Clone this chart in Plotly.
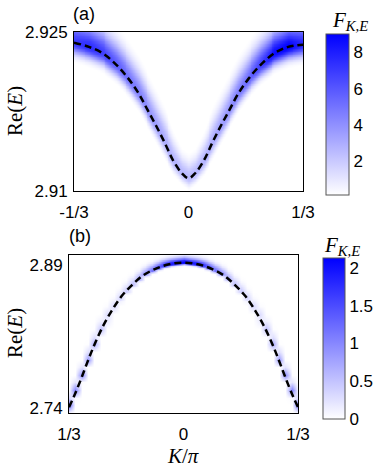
import numpy as np
import plotly.graph_objects as go

W, H = 382, 474


def fx(px):
    return px / W


def fy(py):
    return 1 - py / H


# ---- panel (a): dashed dispersion curve + spectral weight band ----
k_a = [-1/3, -0.29, -0.25, -0.21, -0.175, -0.145, -0.12, -0.095, -0.07, -0.045, -0.02, 0.0,
       0.02, 0.045, 0.07, 0.095, 0.12, 0.145, 0.175, 0.21, 0.25, 0.29, 1/3]
e_a = [2.9240, 2.9236, 2.9230, 2.9219, 2.9206, 2.9192, 2.9177, 2.9162, 2.9146, 2.9129, 2.9117, 2.9112,
       2.9117, 2.9129, 2.9146, 2.9162, 2.9177, 2.9192, 2.9206, 2.9219, 2.9230, 2.9236, 2.9238]
peak_a = [7.0, 7.5, 6.8, 5.8, 5.0, 4.5, 4.0, 3.5, 3.0, 2.8, 2.6, 2.5,
          2.6, 2.8, 3.0, 3.5, 4.0, 4.6, 5.4, 6.8, 8.6, 9.0, 7.5]
width_a = [0.0007, 0.0007, 0.0007, 0.0007, 0.0007, 0.0007, 0.0007, 0.0007, 0.0007, 0.0006, 0.0005, 0.0005,
           0.0005, 0.0006, 0.0007, 0.0007, 0.0007, 0.0007, 0.0007, 0.0007, 0.0007, 0.0007, 0.0007]

# ---- panel (b) ----
k_b = [-1/3, -0.32, -0.30, -0.28, -0.26, -0.235, -0.21, -0.18, -0.15, -0.12, -0.085, -0.045, 0.0,
       0.045, 0.085, 0.12, 0.15, 0.18, 0.21, 0.235, 0.26, 0.28, 0.30, 0.32, 1/3]
e_b = [2.7410, 2.7515, 2.7690, 2.7880, 2.8060, 2.8255, 2.8415, 2.8575, 2.8690, 2.8785, 2.8855, 2.8905, 2.8925,
       2.8905, 2.8855, 2.8785, 2.8690, 2.8575, 2.8415, 2.8255, 2.8060, 2.7880, 2.7690, 2.7515, 2.7410]
peak_b = [1.3, 1.2, 1.1, 0.9, 0.7, 0.5, 0.35, 0.35, 0.5, 0.8, 1.3, 1.9, 2.1,
          1.9, 1.3, 0.8, 0.5, 0.35, 0.35, 0.5, 0.7, 0.9, 1.1, 1.2, 1.3]
width_b = [0.002, 0.002, 0.002, 0.002, 0.002, 0.002, 0.0019, 0.0018, 0.0016, 0.0015, 0.0014, 0.0013, 0.0013,
           0.0013, 0.0014, 0.0015, 0.0016, 0.0018, 0.0019, 0.002, 0.002, 0.002, 0.002, 0.002, 0.002]

xa_vals = [-1/3, 0, 1/3]
xa_text = ["-1/3", "0", "1/3"]
xb_text = ["1/3", "0", "1/3"]
ya_vals, ya_text = [2.91, 2.925], ["2.91", "2.925"]
yb_vals, yb_text = [2.74, 2.89], ["2.74", "2.89"]
ya_range = [2.91, 2.925]
yb_range = [2.735, 2.9005]


def band(k, e, peak, width, kgrid, egrid, skew):
    c = np.interp(kgrid, k, e)
    p = np.interp(kgrid, k, peak)
    w = np.interp(kgrid, k, width)
    d = egrid[:, None] - c[None, :]
    s = np.where(d > 0, w * skew, w)
    return p * np.exp(-0.5 * (d / s) ** 2)


kg_a = np.linspace(-1/3, 1/3, 241)
eg_a = np.linspace(ya_range[0], ya_range[1], 220)
z_a = band(k_a, e_a, peak_a, width_a, kg_a, eg_a, 2.0)
kg_b = np.linspace(-1/3, 1/3, 37)
eg_b = np.concatenate([np.arange(yb_range[0], 2.850, 0.008), np.linspace(2.852, yb_range[1], 70)])
z_b = band(k_b, e_b, peak_b, width_b, kg_b, eg_b, 3.0)

fig = go.Figure()
fig.add_trace(go.Heatmap(x=kg_a, y=eg_a, z=z_a, coloraxis="coloraxis", zsmooth="best",
                         xaxis="x", yaxis="y", hoverinfo="skip"))
fig.add_trace(go.Scatter(x=k_a, y=e_a, mode="lines", line=dict(color="black", width=2.5, dash="7px,4px", shape="spline"),
                         xaxis="x", yaxis="y", showlegend=False))
fig.add_trace(go.Heatmap(x=kg_b, y=eg_b, z=z_b, coloraxis="coloraxis2", zsmooth="best",
                         xaxis="x2", yaxis="y2", hoverinfo="skip"))
fig.add_trace(go.Scatter(x=k_b, y=e_b, mode="lines", line=dict(color="black", width=2.5, dash="7px,4px", shape="spline"),
                         xaxis="x2", yaxis="y2", showlegend=False))

tickfont = dict(family="Liberation Sans, Arial", size=17, color="black")
scale = [[0, "rgb(255,255,255)"], [1, "rgb(0,0,255)"]]
axis_common = dict(showline=True, linecolor="black", linewidth=1, mirror=True, showgrid=False,
                   zeroline=False, ticks="", tickfont=tickfont, automargin=False)

fig.update_layout(
    width=W, height=H, margin=dict(l=0, r=0, t=0, b=0, autoexpand=False),
    paper_bgcolor="white", plot_bgcolor="white", showlegend=False,
    xaxis=dict(domain=[fx(74), fx(303)], anchor="y", range=[-1/3, 1/3], tickvals=xa_vals, ticktext=xa_text,
               ticklabelstandoff=6, **axis_common),
    yaxis=dict(domain=[fy(191), fy(32)], anchor="x", range=ya_range, tickvals=ya_vals, ticktext=ya_text,
               ticklabelstandoff=2, **axis_common),
    xaxis2=dict(domain=[fx(69), fx(298)], anchor="y2", range=[-1/3, 1/3], tickvals=xa_vals, ticktext=xb_text,
                ticklabelstandoff=6, **axis_common),
    yaxis2=dict(domain=[fy(413), fy(255)], anchor="x2", range=yb_range, tickvals=yb_vals, ticktext=yb_text,
                ticklabelstandoff=2, **axis_common),
    coloraxis=dict(colorscale=scale, cmin=0.15, cmax=9.0,
                   colorbar=dict(x=fx(326), xanchor="left", y=fy(114.5), yanchor="middle", len=161/H,
                                 thickness=23, outlinewidth=1, outlinecolor="#555", tickvals=[2, 4, 6, 8],
                                 ticks="", tickfont=tickfont, xpad=0, ypad=0)),
    coloraxis2=dict(colorscale=scale, cmin=0, cmax=2.13,
                    colorbar=dict(x=fx(323), xanchor="left", y=fy(338.5), yanchor="middle", len=161/H,
                                  thickness=22, outlinewidth=1, outlinecolor="#555",
                                  tickvals=[0, 0.5, 1, 1.5, 2], ticktext=["0", "0.5", "1", "1.5", "2"],
                                  ticks="", tickfont=tickfont, xpad=0, ypad=0)),
)

serif = dict(family="Liberation Serif, DejaVu Serif", size=21, color="black")
sans = dict(family="Liberation Sans, Arial", size=18, color="black")


def note(text, px, py, font, angle=0, xanchor="center"):
    fig.add_annotation(text=text, x=fx(px), y=fy(py), xref="paper", yref="paper", showarrow=False,
                       font=font, textangle=angle, xanchor=xanchor, yanchor="middle")


note("(a)", 71, 14, sans, xanchor="left")
note("(b)", 67, 236, sans, xanchor="left")
note("Re(<i>E</i>)", 15, 111, serif, angle=-90)
note("Re(<i>E</i>)", 15, 333, serif, angle=-90)
note("<i>K</i>/<i>π</i>", 183, 456, serif)
note("<i>F</i><sub><i>K,E</i></sub>", 350, 21, serif)
note("<i>F</i><sub><i>K,E</i></sub>", 342, 246, serif)

# drop the default 8px page margin so the figure sits at the window's corner
fig.write_html("out.html", config={"displayModeBar": False},
               post_script="document.body.style.margin='0px';")
